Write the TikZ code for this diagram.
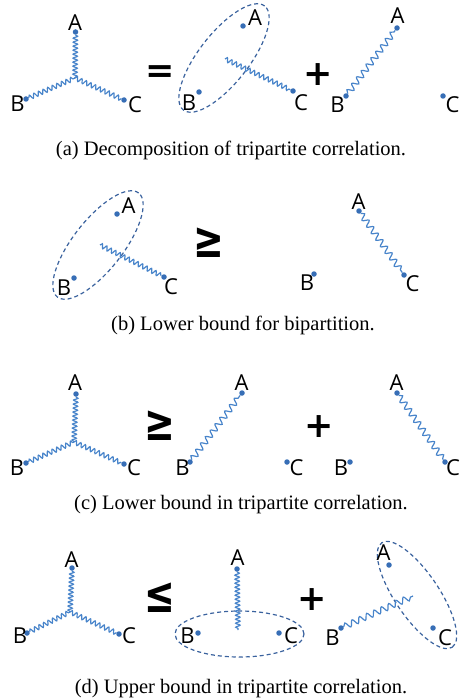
\documentclass[tikz,border=0pt]{standalone}
\usepackage{fontspec}
\usepackage{graphicx}
\setmainfont{Liberation Serif}
\newfontfamily\labfont{Open Sans}
\newfontfamily\opfont{DejaVu Sans}
\usepackage{tikz}
\usetikzlibrary{decorations.pathmorphing}
\definecolor{wavecol}{RGB}{72,132,202}
\definecolor{dotcol}{RGB}{55,110,182}
\definecolor{ringcol}{RGB}{58,98,158}
\newcommand{\tallop}[1]{\scalebox{1.05}[1.45]{#1}}

\begin{document}
\begin{tikzpicture}[x=1pt,y=-1pt,
  dot/.style={circle,fill=dotcol,inner sep=0pt,minimum size=5.5pt},
  lab/.style={font=\labfont\fontsize{22}{22}\selectfont,inner sep=0pt},
  op/.style={font=\opfont\bfseries\fontsize{35}{35}\selectfont,inner sep=0pt},
  captext/.style={font=\fontsize{20.5}{24}\selectfont,inner sep=0pt,anchor=base},
  tight/.style={wavecol,line width=1.2pt,decorate,decoration={snake,segment length=4pt,amplitude=2.2pt}},
  wave/.style={wavecol,line width=1.2pt,decorate,decoration={snake,segment length=5pt,amplitude=2.2pt}},
  longwave/.style={wavecol,line width=1.2pt,decorate,decoration={snake,segment length=8pt,amplitude=3pt}},
  ring/.style={ringcol,line width=1.2pt,dash pattern=on 4pt off 3pt}]
  \useasboundingbox (0,0) rectangle (459,698);

  % (a) decomposition
  \node[dot] (aA) at (75.5,32) {};
  \node[dot] (aB) at (26,99) {};
  \node[dot] (aC) at (124,100) {};
  \coordinate (aJ) at (75,78);
  \draw[tight] (aA) -- (aJ);
  \draw[wave] (aB) -- (aJ);
  \draw[wave] (aJ) -- (aC);
  \node[lab] (aAl) at (75,22.5) {A};
  \node[lab] (aBl) at (17.5,103.5) {B};
  \node[lab] (aCl) at (135,104.5) {C};
  \node[op] (aeq) at (160,74.5) {=};
  \node[dot] (amA) at (243,26) {};
  \node[dot] (amB) at (199,92) {};
  \node[dot] (amC) at (293,91) {};
  \coordinate (amW) at (225,59);
  \draw[ring,rotate around={52:(224,58)}] (224,58) ellipse [x radius=66pt,y radius=25pt];
  \draw[wave] (amW) -- (amC);
  \node[lab] (amAl) at (255,17.5) {A};
  \node[lab] (amBl) at (189,102.5) {B};
  \node[lab] (amCl) at (301,102.5) {C};
  \node[op] (aplus) at (318,75) {+};
  \node[dot] (arA) at (397,28) {};
  \node[dot] (arB) at (346,96) {};
  \node[dot] (arC) at (443,96) {};
  \draw[longwave] (arB) -- (arA);
  \node[lab] (arAl) at (397.5,15.5) {A};
  \node[lab] (arBl) at (337.5,104.5) {B};
  \node[lab] (arCl) at (452.5,104.5) {C};
  \node[captext] (capa) at (231,155) {(a) Decomposition of tripartite correlation.};

  % (b) bipartition
  \node[dot] (bA) at (117,214) {};
  \node[dot] (bB) at (74,278) {};
  \node[dot] (bC) at (164,277) {};
  \coordinate (bW) at (100,245);
  \draw[ring,rotate around={52:(98,245)}] (98,245) ellipse [x radius=66pt,y radius=25pt];
  \draw[wave] (bW) -- (bC);
  \node[lab] (bAl) at (128.5,205.5) {A};
  \node[lab] (bBl) at (64,287.5) {B};
  \node[lab] (bCl) at (171,286.5) {C};
  \node[op] (bge) at (209,242.5) {\tallop{≥}};
  \node[dot] (brA) at (359,211) {};
  \node[dot] (brB) at (314,274) {};
  \node[dot] (brC) at (404,275) {};
  \draw[longwave] (brA) -- (brC);
  \node[lab] (brAl) at (358.5,201.5) {A};
  \node[lab] (brBl) at (307,282.5) {B};
  \node[lab] (brCl) at (412.5,283.5) {C};
  \node[captext] (capb) at (243,330) {(b) Lower bound for bipartition.};

  % (c) lower bound
  \node[dot] (cA) at (76,394) {};
  \node[dot] (cB) at (26,463) {};
  \node[dot] (cC) at (124,464) {};
  \coordinate (cJ) at (74,442);
  \draw[tight] (cA) -- (cJ);
  \draw[wave] (cB) -- (cJ);
  \draw[wave] (cJ) -- (cC);
  \node[lab] (cAl) at (75,382.5) {A};
  \node[lab] (cBl) at (17,467.5) {B};
  \node[lab] (cCl) at (134,467.5) {C};
  \node[op] (cge) at (160,426) {\tallop{≥}};
  \node[dot] (cmA) at (242,393) {};
  \node[dot] (cmB) at (190,462) {};
  \draw[longwave] (cmB) -- (cmA);
  \node[lab] (cmAl) at (241.5,382.5) {A};
  \node[lab] (cmBl) at (182.5,467.5) {B};
  \node[dot] (cmC) at (287,462) {};
  \node[dot] (crB) at (350,462) {};
  \node[lab] (cmCl) at (296.5,467.5) {C};
  \node[lab] (crBl) at (341,467.5) {B};
  \node[op] (cplus) at (319.5,427) {+};
  \node[dot] (crA) at (397,393) {};
  \node[dot] (crC) at (445,462) {};
  \draw[longwave] (crA) -- (crC);
  \node[lab] (crAl) at (396.5,382.5) {A};
  \node[lab] (crCl) at (453,467.5) {C};
  \node[captext] (capc) at (241,509) {(c) Lower bound in tripartite correlation.};

  % (d) upper bound
  \node[dot] (dA) at (72,568) {};
  \node[dot] (dB) at (27,633) {};
  \node[dot] (dC) at (119,634) {};
  \coordinate (dJ) at (70,612);
  \draw[tight] (dA) -- (dJ);
  \draw[wave] (dB) -- (dJ);
  \draw[wave] (dJ) -- (dC);
  \node[lab] (dAl) at (71.5,559.5) {A};
  \node[lab] (dBl) at (20,635.5) {B};
  \node[lab] (dCl) at (129,635.5) {C};
  \node[op] (dle) at (160,597.5) {\tallop{≤}};
  \node[dot] (dmA) at (237,569) {};
  \node[dot] (dmB) at (198,633) {};
  \node[dot] (dmC) at (279,633) {};
  \coordinate (dmW) at (238,630);
  \draw[ring] (239.5,634) ellipse [x radius=64.5pt,y radius=23pt];
  \draw[tight] (dmA) -- (dmW);
  \node[lab] (dmAl) at (237.5,557.5) {A};
  \node[lab] (dmBl) at (187.5,635.5) {B};
  \node[lab] (dmCl) at (291,635.5) {C};
  \node[op] (dplus) at (312,600) {+};
  \node[dot] (drA) at (389,565) {};
  \node[dot] (drB) at (341,628) {};
  \node[dot] (drC) at (433,628) {};
  \coordinate (drW) at (413,596);
  \draw[ring,rotate around={-56:(417,595)}] (417,595) ellipse [x radius=63pt,y radius=22pt];
  \draw[longwave] (drB) -- (drW);
  \node[lab] (drAl) at (383.5,552.5) {A};
  \node[lab] (drBl) at (332.5,637.5) {B};
  \node[lab] (drCl) at (445,637.5) {C};
  \node[captext] (capd) at (241,693) {(d) Upper bound in tripartite correlation.};
\end{tikzpicture}
\end{document}
